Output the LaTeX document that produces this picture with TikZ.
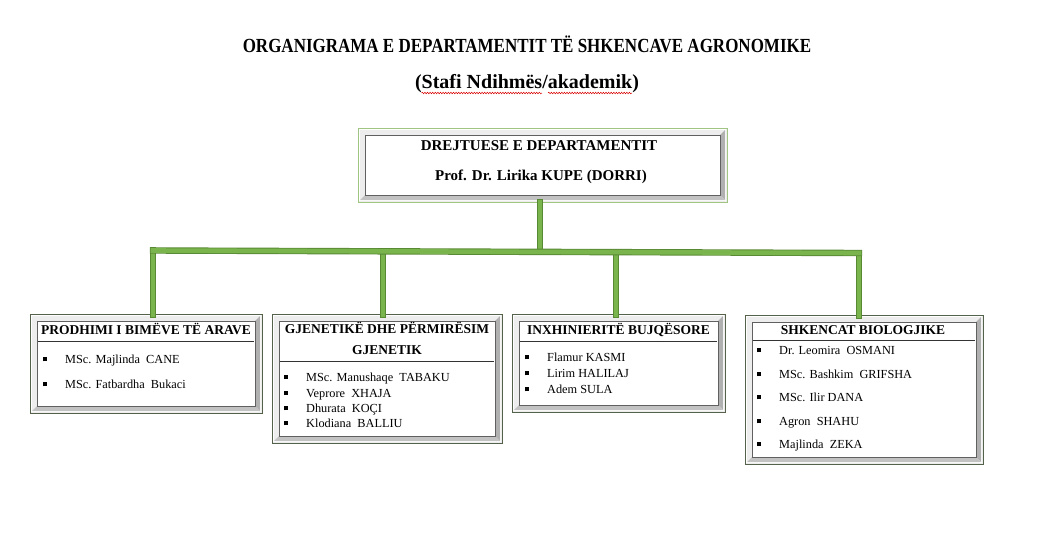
\documentclass[tikz,border=0pt]{standalone}
\usepackage{fontspec}
\setmainfont{Liberation Serif}
\newfontfamily\titlefont[FakeStretch=0.85]{Liberation Serif}
\usetikzlibrary{decorations.pathmorphing}
\definecolor{gMain}{RGB}{122,180,76}
\definecolor{gDark}{RGB}{88,138,52}
\definecolor{topEdge}{RGB}{160,196,130}
\definecolor{boxEdge}{RGB}{84,98,76}
\newcommand{\bul}{\makebox[22pt][l]{\rule[1.6pt]{4pt}{4pt}}}
\tikzset{
  bevelbox/.style={draw=#1, line width=1pt, fill=gray!14, inner sep=0pt,
    path picture={
      \draw[white, line width=1.2pt]
        ([shift={(1.6pt,-1.6pt)}]path picture bounding box.north west) rectangle
        ([shift={(-1.6pt,1.6pt)}]path picture bounding box.south east);
      \fill[gray!62]
        ([shift={(-2pt,-2pt)}]path picture bounding box.north east) --
        ([shift={(-2pt,2pt)}]path picture bounding box.south east) --
        ([shift={(-7pt,7pt)}]path picture bounding box.south east) --
        ([shift={(-7pt,-7pt)}]path picture bounding box.north east) -- cycle;
      \fill[gray!48]
        ([shift={(2pt,2pt)}]path picture bounding box.south west) --
        ([shift={(-2pt,2pt)}]path picture bounding box.south east) --
        ([shift={(-7pt,7pt)}]path picture bounding box.south east) --
        ([shift={(7pt,7pt)}]path picture bounding box.south west) -- cycle;
      \filldraw[fill=white, draw=gray!75!black, line width=0.7pt]
        ([shift={(7pt,-7pt)}]path picture bounding box.north west) rectangle
        ([shift={(-7pt,7pt)}]path picture bounding box.south east);
    }},
  conn/.style={line width=4.6pt, draw=gMain, line cap=rect,
    preaction={draw=gDark, line width=6.4pt, line cap=rect}},
  titletext/.style={inner sep=0pt, anchor=base, font=\titlefont\bfseries\fontsize{20}{24}\selectfont},
  subtext/.style={inner sep=0pt, anchor=base, font=\bfseries\fontsize{20}{24}\selectfont},
  toptext/.style={inner sep=0pt, anchor=base, font=\bfseries\fontsize{15}{18}\selectfont},
  headtext/.style={inner sep=0pt, anchor=base, font=\bfseries\fontsize{13.5}{16}\selectfont},
  itemtext/.style={inner sep=0pt, anchor=base west, font=\fontsize{12.3}{14}\selectfont},
  headrule/.style={draw=black!80, line width=1pt},
  spell/.style={draw=red!85!black, line width=0.5pt, decorate,
    decoration={snake, amplitude=0.8pt, segment length=2.6pt}}
}
\begin{document}
\begin{tikzpicture}[x=1pt, y=-1pt]
\useasboundingbox[fill=white] (0,0) rectangle (1053,536);

% titles
\node[titletext] (t1) at (527,52.5) {ORGANIGRAMA E DEPARTAMENTIT TË SHKENCAVE AGRONOMIKE};
\node[subtext] (t2) at (527,88.5) {(Stafi Ndihmës/akademik)};
\draw[spell] (421.5,93) -- (542,93);
\draw[spell] (548,93) -- (632,93);

% boxes
\node[bevelbox=topEdge, minimum width=369pt, minimum height=74pt] (top) at (542.5,165) {};
\node[bevelbox=boxEdge, minimum width=232pt, minimum height=99pt] (b1) at (146,363.5) {};
\node[bevelbox=boxEdge, minimum width=230pt, minimum height=129pt] (b2) at (387,378.5) {};
\node[bevelbox=boxEdge, minimum width=213pt, minimum height=98pt] (b3) at (618.5,363) {};
\node[bevelbox=boxEdge, minimum width=238pt, minimum height=149pt] (b4) at (864,389.5) {};

% connectors
\coordinate (jt) at (540,252);
\coordinate (j1) at (153,250.5);
\coordinate (j2) at (383,251.5);
\coordinate (j3) at (616,252.5);
\coordinate (j4) at (859,253);
\draw[conn] (jt |- top.south) -- (jt);
\draw[conn] (j1) -- ([yshift=-1pt]j1 |- b1.north);
\draw[conn] (j2) -- ([yshift=-1pt]j2 |- b2.north);
\draw[conn] (j3) -- ([yshift=-1pt]j3 |- b3.north);
\draw[conn] (j4) -- ([yshift=-1pt]j4 |- b4.north);
\draw[conn] (j1) -- (j4);

% top box text
\node[toptext] (tp1) at (539,150) {DREJTUESE E DEPARTAMENTIT};
\node[toptext] (tp2) at (541,180.5) {Prof. Dr. Lirika KUPE (DORRI)};

% box 1
\node[headtext] (h1) at (146,334) {PRODHIMI I BIMËVE TË ARAVE};
\draw[headrule] (38,341.5) -- (254,341.5);
\node[itemtext] (i11) at (43,363) {\bul MSc. Majlinda\ \ CANE};
\node[itemtext] (i12) at (43,388) {\bul MSc. Fatbardha\ \ Bukaci};

% box 2
\node[headtext] (h2a) at (387,333) {GJENETIKË DHE PËRMIRËSIM};
\node[headtext] (h2b) at (387,354.5) {GJENETIK};
\draw[headrule] (280,361.5) -- (494,361.5);
\node[itemtext] (i21) at (284,381) {\bul MSc. Manushaqe\ \ TABAKU};
\node[itemtext] (i22) at (284,397) {\bul Veprore\ \ XHAJA};
\node[itemtext] (i23) at (284,412) {\bul Dhurata\ \ KOÇI};
\node[itemtext] (i24) at (284,427) {\bul Klodiana\ \ BALLIU};

% box 3
\node[headtext] (h3) at (618.5,334) {INXHINIERITË BUJQËSORE};
\draw[headrule] (520,341.5) -- (717,341.5);
\node[itemtext] (i31) at (525,361) {\bul Flamur KASMI};
\node[itemtext] (i32) at (525,377) {\bul Lirim HALILAJ};
\node[itemtext] (i33) at (525,393) {\bul Adem SULA};

% box 4
\node[headtext] (h4) at (863,334) {SHKENCAT BIOLOGJIKE};
\draw[headrule] (753,340.5) -- (975,340.5);
\node[itemtext] (i41) at (757,354) {\bul Dr. Leomira\ \ OSMANI};
\node[itemtext] (i42) at (757,378) {\bul MSc. Bashkim\ \ GRIFSHA};
\node[itemtext] (i43) at (757,401) {\bul MSc. Ilir DANA};
\node[itemtext] (i44) at (757,425) {\bul Agron\ \ SHAHU};
\node[itemtext] (i45) at (757,448) {\bul Majlinda\ \ ZEKA};
\end{tikzpicture}
\end{document}
